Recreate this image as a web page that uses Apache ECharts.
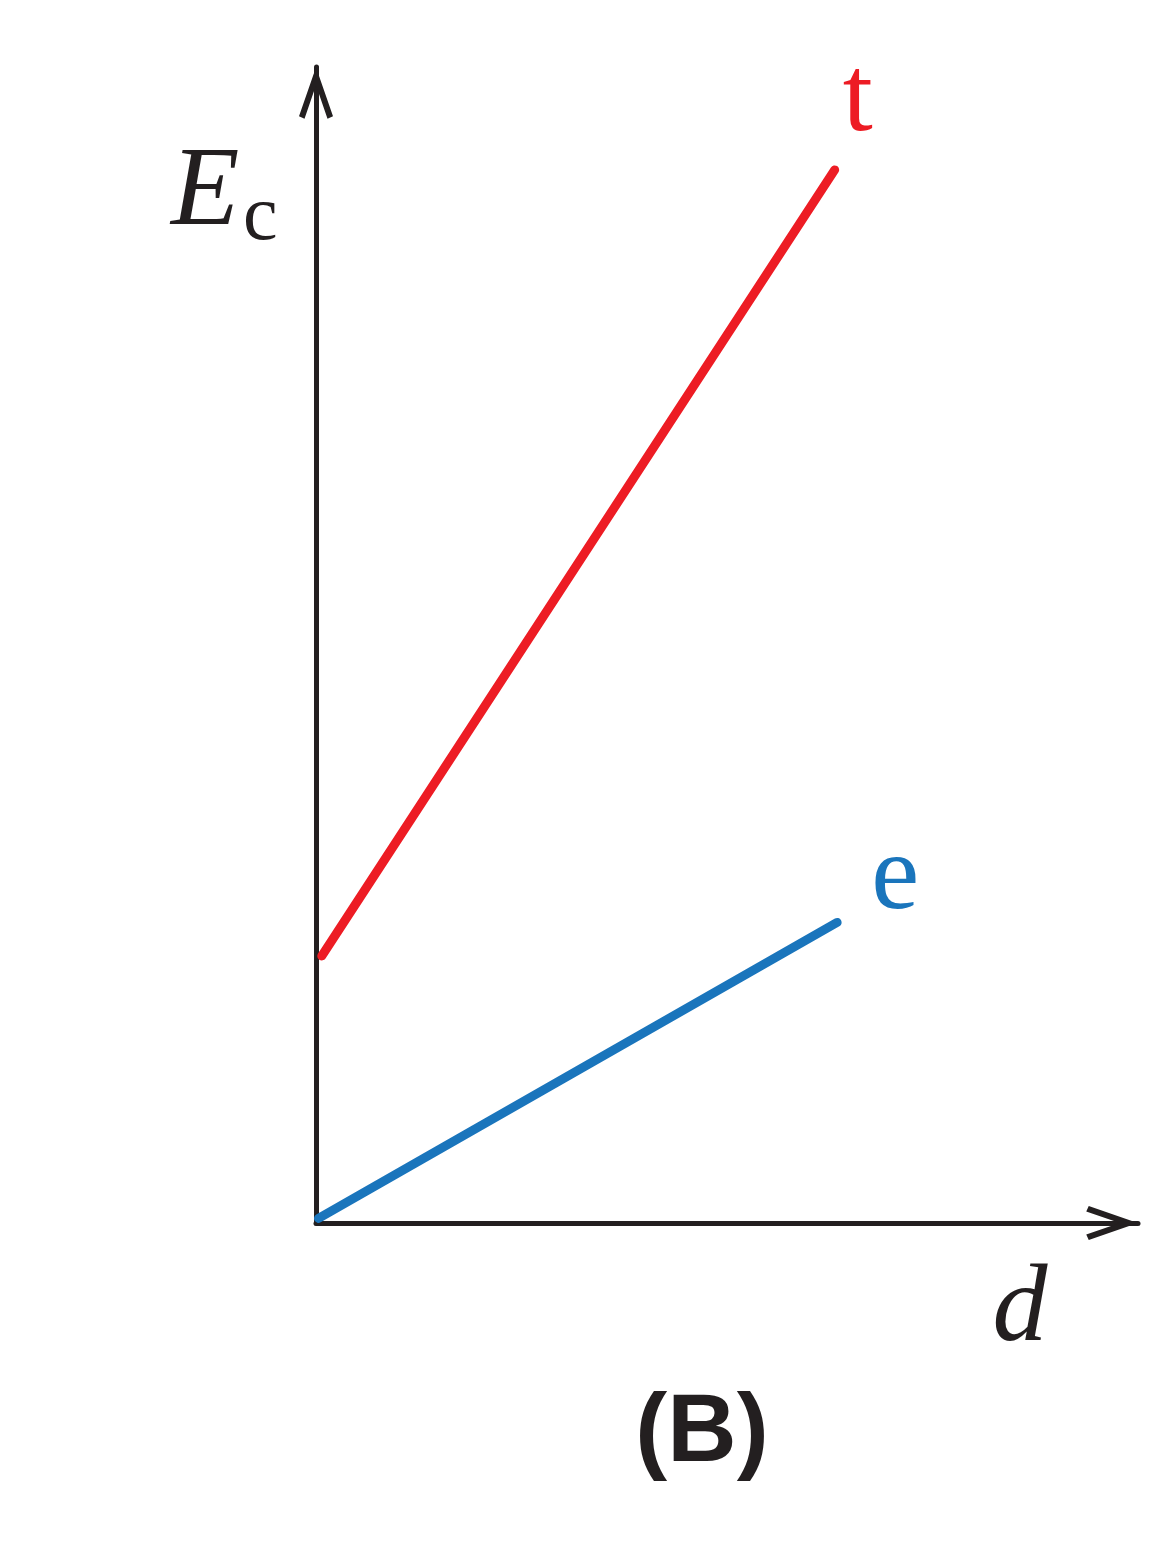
<!DOCTYPE html>
<html>
<head>
<meta charset="utf-8">
<script src="https://cdn.jsdelivr.net/npm/echarts@6/dist/echarts.min.js"></script>
<style>
html,body{margin:0;padding:0;background:#fff;}
#chart{width:1150px;height:1550px;}
</style>
</head>
<body>
<div id="chart"></div>
<script>
// Data (axis units 0..10, no tick labels in the original)
const seriesNames = ['t', 'e'];
const tX = [0.07, 6.31];
const tY = [2.31, 9.11];
const eX = [0.03, 6.34];
const eY = [0.04, 2.60];
const axisNameX = 'd';
const axisNameY = 'E';
const axisNameYSub = 'c';
const panelLabel = '(B)';

const RED = '#ED1C24';
const BLUE = '#1A75BC';
const INK = '#231F20';
const SERIF = "'Liberation Serif', 'Times New Roman', Times, serif";
const SANS = "'Liberation Sans', Arial, Helvetica, sans-serif";

const chevron = 'path://M17 0 L34 49 L28.5 51.5 L17 18 L5.5 51.5 L0 49 Z';

function buildData(xs, ys) {
  return xs.map((x, i) => [x, ys[i]]);
}

const chart = echarts.init(document.getElementById('chart'), null, { renderer: 'canvas' });

const axisCommon = {
  type: 'value',
  min: 0,
  max: 10,
  axisTick: { show: false },
  axisLabel: { show: false },
  splitLine: { show: false },
  axisLine: {
    show: true,
    onZero: false,
    symbol: ['none', chevron],
    symbolSize: [34, 52],
    symbolOffset: [0, -26],
    lineStyle: { color: INK, width: 5 }
  }
};

function lineSeries(name, xs, ys, color, offset) {
  return {
    name: name,
    type: 'line',
    showSymbol: false,
    symbol: 'none',
    lineStyle: { color: color, width: 9, cap: 'round' },
    itemStyle: { color: color },
    endLabel: {
      show: true,
      formatter: name,
      offset: offset,
      distance: 0,
      align: 'center',
      verticalAlign: 'middle',
      color: color,
      fontFamily: SERIF,
      fontSize: 108
    },
    labelLayout: { hideOverlap: false },
    data: buildData(xs, ys),
    z: 3
  };
}

chart.setOption({
  animation: false,
  backgroundColor: '#ffffff',
  grid: { left: 316, right: 12, top: 67, bottom: 327, containLabel: false },
  xAxis: axisCommon,
  yAxis: axisCommon,
  series: [
    lineSeries(seriesNames[0], tX, tY, RED, [23, -68]),
    lineSeries(seriesNames[1], eX, eY, BLUE, [58, -43])
  ],
  graphic: [
    {
      type: 'text', x: 171, y: 195,
      style: { text: axisNameY, fill: INK, fontFamily: SERIF, fontStyle: 'italic', fontSize: 112, align: 'left', verticalAlign: 'middle' }
    },
    {
      type: 'text', x: 243, y: 219,
      style: { text: axisNameYSub, fill: INK, fontFamily: SERIF, fontSize: 78, align: 'left', verticalAlign: 'middle' }
    },
    {
      type: 'text', x: 1020, y: 1311,
      style: { text: axisNameX, fill: INK, fontFamily: SERIF, fontStyle: 'italic', fontSize: 110, align: 'center', verticalAlign: 'middle' }
    },
    {
      type: 'text', x: 702, y: 1435,
      style: { text: panelLabel, fill: INK, fontFamily: SANS, fontWeight: 'bold', fontSize: 96, align: 'center', verticalAlign: 'middle' }
    }
  ]
});
</script>
</body>
</html>
